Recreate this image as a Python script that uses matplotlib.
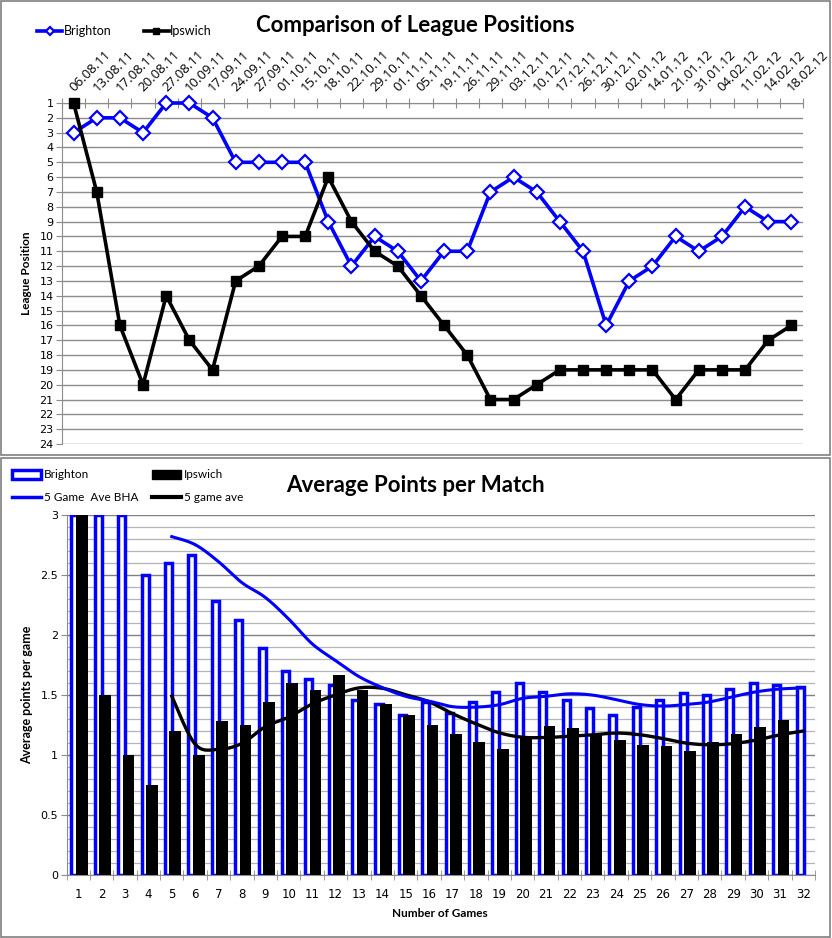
import numpy as np
import matplotlib
matplotlib.use("Agg")
import matplotlib.pyplot as plt
from matplotlib.patches import Patch, Rectangle
from matplotlib.lines import Line2D

# league positions per match date
dates = ["06.08.11", "13.08.11", "17.08.11", "20.08.11", "27.08.11", "10.09.11", "17.09.11", "24.09.11",
         "27.09.11", "01.10.11", "15.10.11", "18.10.11", "22.10.11", "29.10.11", "01.11.11", "05.11.11",
         "19.11.11", "26.11.11", "29.11.11", "03.12.11", "10.12.11", "17.12.11", "26.12.11", "30.12.11",
         "02.01.12", "14.01.12", "21.01.12", "31.01.12", "04.02.12", "11.02.12", "14.02.12", "18.02.12"]
brighton_pos = [3, 2, 2, 3, 1, 1, 2, 5, 5, 5, 5, 9, 12, 10, 11, 13, 11, 11, 7, 6, 7, 9, 11, 16,
                13, 12, 10, 11, 10, 8, 9, 9]
ipswich_pos = [1, 7, 16, 20, 14, 17, 19, 13, 12, 10, 10, 6, 9, 11, 12, 14, 16, 18, 21, 21, 20, 19, 19, 19,
               19, 19, 21, 19, 19, 19, 17, 16]

# average points per match
games = list(range(1, 33))
brighton_avg = [3, 3, 3, 2.5, 2.6, 2.667, 2.286, 2.125, 1.889, 1.7, 1.636, 1.583, 1.462, 1.429, 1.333, 1.438,
                1.353, 1.444, 1.526, 1.6, 1.524, 1.455, 1.391, 1.333, 1.4, 1.462, 1.519, 1.5, 1.552, 1.6,
                1.581, 1.563]
ipswich_avg = [3, 1.5, 1.0, 0.75, 1.2, 1.0, 1.286, 1.25, 1.444, 1.6, 1.545, 1.667, 1.538, 1.429, 1.333, 1.25,
               1.176, 1.111, 1.053, 1.15, 1.238, 1.227, 1.174, 1.125, 1.08, 1.077, 1.037, 1.107, 1.172, 1.233,
               1.29]
ave_games = list(range(5, 33))
bha_5ave = [2.82, 2.753, 2.611, 2.436, 2.313, 2.133, 1.927, 1.787, 1.654, 1.562, 1.489, 1.449, 1.403, 1.399,
            1.419, 1.472, 1.489, 1.51, 1.499, 1.461, 1.421, 1.408, 1.421, 1.443, 1.487, 1.527, 1.55, 1.559]
ips_5ave = [1.49, 1.09, 1.047, 1.097, 1.236, 1.316, 1.425, 1.501, 1.559, 1.556, 1.502, 1.443, 1.345, 1.26,
            1.185, 1.148, 1.146, 1.156, 1.168, 1.183, 1.169, 1.137, 1.099, 1.085, 1.095, 1.125, 1.168, 1.2]

BLUE = "#0000FF"
GRID = "#8c8c8c"
TITLE_FONT = ["Lato", "DejaVu Sans"]
W, H = 832, 938


def smooth(x, y, n=16):
    # catmull-rom, like excel's "smoothed line"
    pts = np.column_stack([x, y]).astype(float)
    p = np.vstack([pts[0], pts, pts[-1]])
    t = np.linspace(0, 1, n)[:, None]
    out = []
    for i in range(1, len(p) - 2):
        p0, p1, p2, p3 = p[i - 1], p[i], p[i + 1], p[i + 2]
        seg = 0.5 * (2 * p1 + (-p0 + p2) * t + (2 * p0 - 5 * p1 + 4 * p2 - p3) * t ** 2
                     + (-p0 + 3 * p1 - 3 * p2 + p3) * t ** 3)
        out.append(seg)
    s = np.vstack(out)
    return s[:, 0], s[:, 1]


def box(l, t, r, b):
    return [l / W, 1 - b / H, (r - l) / W, (b - t) / H]


fig = plt.figure(figsize=(W / 100, H / 100), dpi=100)
fig.add_artist(Rectangle((1 / W, 1 - 455 / H), 829 / W, 454 / H, transform=fig.transFigure,
                         fill=False, edgecolor="#808080", lw=1.2))
fig.add_artist(Rectangle((1 / W, 1 / H), 829 / W, (937 - 458) / H, transform=fig.transFigure,
                         fill=False, edgecolor="#808080", lw=1.2))

# ---------------- top: league positions
ax1 = fig.add_axes(box(62, 103, 803, 444))
x = np.arange(len(dates))
ax1.plot(x, brighton_pos, color=BLUE, lw=2.6, marker="D", ms=7.5, mfc="white", mec=BLUE, mew=1.6,
         clip_on=False, zorder=3, label="Brighton")
ax1.plot(x, ipswich_pos, color="black", lw=2.6, marker="s", ms=7, mfc="black", mec="black",
         clip_on=False, zorder=4, label="Ipswich")
ax1.set_xlim(-0.5, len(dates) - 0.5)
ax1.set_ylim(24, 1)
ax1.set_yticks(range(1, 25))
ax1.tick_params(axis="y", labelsize=8, length=4, color=GRID, pad=2)
ax1.grid(axis="y", color=GRID, lw=1)
ax1.xaxis.tick_top()
ax1.set_xticks(np.arange(-0.5, len(dates), 1))
ax1.set_xticklabels([])
ax1.tick_params(axis="x", direction="inout", length=7, color=GRID)
for i, d in enumerate(dates):
    ax1.text(i + 0.12, 1.025, d, transform=ax1.get_xaxis_transform(), rotation=45, rotation_mode="anchor",
             ha="left", va="bottom", fontsize=9.5, family=["Open Sans", "DejaVu Sans"])
for s in ["right", "bottom"]:
    ax1.spines[s].set_visible(False)
ax1.spines["top"].set_color(GRID)
ax1.spines["left"].set_color(GRID)
ax1.set_axisbelow(True)
fig.text(27 / W, 1 - 273 / H, "League Position", rotation=90, ha="center", va="center",
         fontsize=8.5, fontweight="bold", family=TITLE_FONT)
fig.text(415 / W, 1 - 25 / H, "Comparison of League Positions", ha="center", va="center",
         fontsize=16, fontweight="bold", family=TITLE_FONT)
fig.legend(handles=ax1.get_lines(), loc="upper left", bbox_to_anchor=(26 / W, 1 - 14 / H), ncol=2,
           frameon=False, handlelength=2.0, columnspacing=2.6, handletextpad=0.1,
           prop={"family": TITLE_FONT, "size": 9}, markerscale=0.6)

# ---------------- bottom: average points
ax2 = fig.add_axes(box(66.5, 515, 815, 875))
g = np.array(games)
ax2.bar(g - 0.14, brighton_avg, width=0.3, facecolor="white", edgecolor=BLUE, lw=2.5, zorder=2)
ax2.bar(np.arange(1, len(ipswich_avg) + 1) + 0.15, ipswich_avg, width=0.5, color="black", zorder=3)
sx, sy = smooth(ave_games, bha_5ave)
ax2.plot(sx, sy, color=BLUE, lw=2.2, zorder=5)
sx, sy = smooth(ave_games, ips_5ave)
ax2.plot(sx, sy, color="black", lw=2.4, zorder=4)
ax2.set_xlim(0.5, 32.5)
ax2.set_ylim(0, 3)
ax2.set_yticks(np.arange(0, 3.01, 0.5))
ax2.set_yticklabels(["0", "0.5", "1", "1.5", "2", "2.5", "3"])
ax2.set_yticks(np.arange(0, 3.01, 0.1), minor=True)
ax2.grid(axis="y", which="major", color="#808080", lw=1)
ax2.grid(axis="y", which="minor", color="#b4b4b4", lw=0.9)
ax2.tick_params(axis="y", which="major", labelsize=8, length=4, color=GRID, pad=2)
ax2.tick_params(axis="y", which="minor", length=0)
ax2.set_xticks(games)
ax2.set_xticks(np.arange(0.5, 33, 1), minor=True)
ax2.tick_params(axis="x", which="major", length=0, labelsize=8.5, pad=9)
ax2.tick_params(axis="x", which="minor", direction="inout", length=7, color=GRID)
for s in ["right", "top"]:
    ax2.spines[s].set_visible(False)
ax2.spines["bottom"].set_color(GRID)
ax2.spines["left"].set_color(GRID)
ax2.set_axisbelow(True)
fig.text(27 / W, 1 - 695 / H, "Average points per game", rotation=90, ha="center", va="center",
         fontsize=9, fontweight="bold", family=TITLE_FONT)
fig.text(440 / W, 1 - 913 / H, "Number of Games", ha="center", va="center",
         fontsize=8.5, fontweight="bold", family=TITLE_FONT)
fig.text(415 / W, 1 - 485 / H, "Average Points per Match", ha="center", va="center",
         fontsize=16, fontweight="bold", family=TITLE_FONT)
handles = [Patch(facecolor="white", edgecolor=BLUE, lw=2.5, label="Brighton"),
           Line2D([], [], color=BLUE, lw=2.5, label="5 Game  Ave BHA"),
           Patch(facecolor="black", edgecolor="black", label="Ipswich"),
           Line2D([], [], color="black", lw=3, label="5 game ave")]
fig.legend(handles=handles, loc="upper left", bbox_to_anchor=(4 / W, 1 - 461 / H), ncol=2,
           frameon=False, borderpad=0.2, handlelength=2.4, handleheight=0.8, handletextpad=0.25,
           columnspacing=1.2, labelspacing=1.0, prop={"family": TITLE_FONT, "size": 8.5})

fig.savefig("out.png", dpi=100)
